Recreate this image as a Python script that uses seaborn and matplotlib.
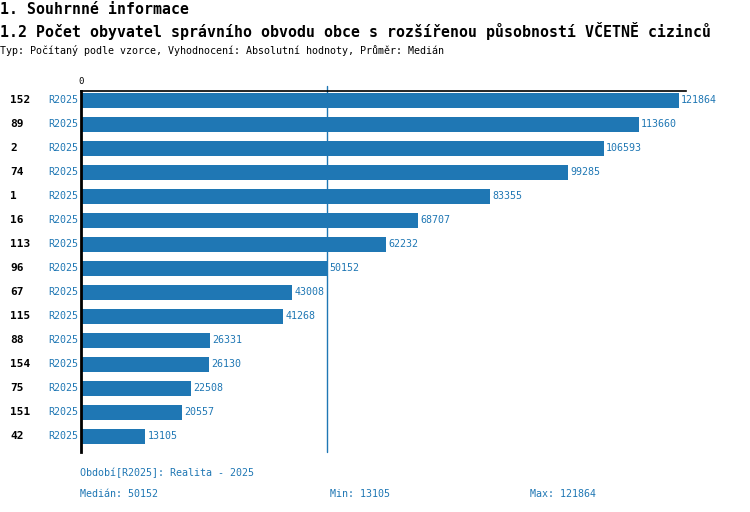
import matplotlib
matplotlib.use("Agg")
import matplotlib.pyplot as plt
import matplotlib.transforms as mtransforms
import seaborn as sns
import pandas as pd

# data
obce = ['152', '89', '2', '74', '1', '16', '113', '96', '67', '115', '88', '154', '75', '151', '42']
hodnoty = [121864, 113660, 106593, 99285, 83355, 68707, 62232, 50152, 43008, 41268,
           26331, 26130, 22508, 20557, 13105]
obdobi = 'R2025'
median = 50152
minimum = 13105
maximum = 121864

modra = '#1f77b4'
font = 'DejaVu Sans Mono'

sns.set_theme(style='white')
plt.rcParams['font.family'] = [font, 'DejaVu Sans']

df = pd.DataFrame({'obec': obce, 'hodnota': hodnoty})

W, H = 750, 512
fig = plt.figure(figsize=(W / 100, H / 100), dpi=100)
ax = fig.add_axes([81 / W, (H - 452) / H, (686 - 81) / W, (452 - 91) / H])

sns.barplot(data=df, x='hodnota', y='obec', order=obce, orient='h',
            color=modra, saturation=1, width=0.65, linewidth=0, ax=ax)

ax.set_xlim(0, 123300)
ax.set_ylim(14.65, -0.39)
ax.set_xticks([])
ax.set_yticks([])
ax.set_xlabel('')
ax.set_ylabel('')
for s in ['right', 'bottom']:
    ax.spines[s].set_visible(False)
ax.spines['left'].set_color('black')
ax.spines['left'].set_linewidth(2)
ax.spines['top'].set_color('black')
ax.spines['top'].set_linewidth(1.2)

# median line
ax.plot([median, median], [14.65, -0.6], color=modra, lw=1, clip_on=False)

# value labels
for i, v in enumerate(hodnoty):
    ax.text(v + 450, i, str(v), color=modra, fontsize=7.2, va='center', ha='left')

# row labels
tr = mtransforms.blended_transform_factory(fig.transFigure, ax.transData)
for i, o in enumerate(obce):
    ax.text(10 / W, i, o, transform=tr, fontsize=8, fontweight='bold',
            color='black', va='center', ha='left')
    ax.text(78 / W, i, obdobi, transform=tr, fontsize=7.2, color=modra,
            va='center', ha='right')

fig.text(81 / W, 1 - 82 / H, '0', fontsize=6.5, color='black', ha='center', va='center')

# titles
fig.text(0, 1 - 10 / H, '1. Souhrnné informace', fontsize=10.7, fontweight='bold',
         va='center', ha='left', color='black')
fig.text(0, 1 - 31 / H,
         '1.2 Počet obyvatel správního obvodu obce s rozšířenou působností VČETNĚ cizinců',
         fontsize=10.7, fontweight='bold', va='center', ha='left', color='black')
fig.text(0, 1 - 50 / H,
         'Typ: Počítaný podle vzorce, Vyhodnocení: Absolutní hodnoty, Průměr: Medián',
         fontsize=7.2, va='center', ha='left', color='black')

# footer
fig.text(80 / W, 1 - 473 / H, 'Období[R2025]: Realita - 2025', fontsize=7.2,
         color=modra, va='center', ha='left')
fig.text(80 / W, 1 - 494 / H, f'Medián: {median}', fontsize=7.2, color=modra,
         va='center', ha='left')
fig.text(330 / W, 1 - 494 / H, f'Min: {minimum}', fontsize=7.2, color=modra,
         va='center', ha='left')
fig.text(530 / W, 1 - 494 / H, f'Max: {maximum}', fontsize=7.2, color=modra,
         va='center', ha='left')

fig.savefig('out.png', dpi=100, facecolor='white')
